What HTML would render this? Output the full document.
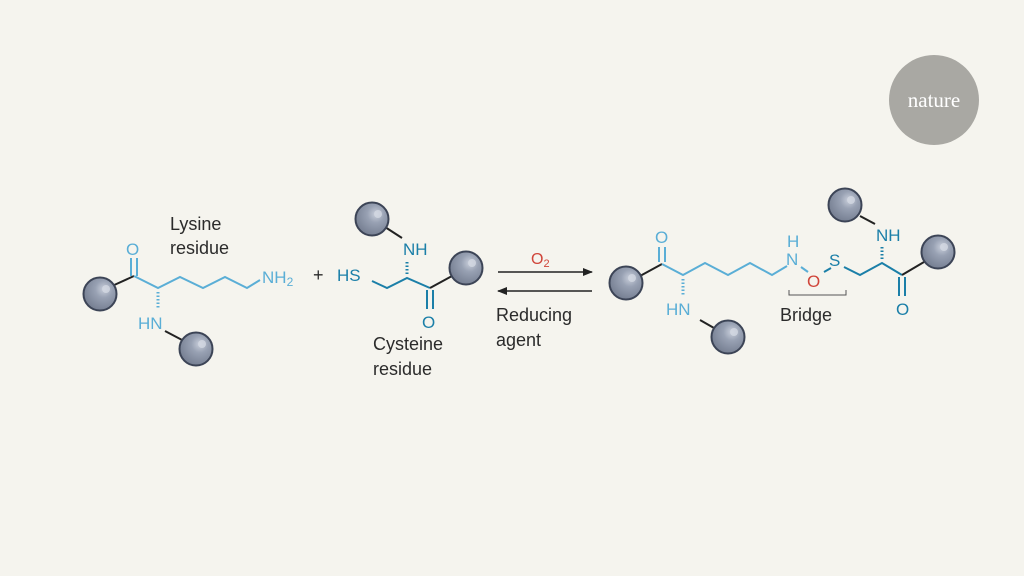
<!DOCTYPE html>
<html><head><meta charset="utf-8"><style>
html,body{margin:0;padding:0;background:#f5f4ee;}
svg{display:block}
text{font-family:"Liberation Sans",sans-serif;}
</style></head><body>
<svg width="1024" height="576" viewBox="0 0 1024 576" xmlns="http://www.w3.org/2000/svg">
<defs>
<radialGradient id="b" cx="0.62" cy="0.35" r="0.75">
<stop offset="0" stop-color="#c9cfdb"/><stop offset="0.35" stop-color="#98a1b3"/><stop offset="1" stop-color="#6f788b"/>
</radialGradient>
<g id="ball"><circle r="16.5" fill="url(#b)" stroke="#3c4456" stroke-width="2"/><circle cx="6" cy="-5" r="4" fill="#d3d8e2" opacity="0.8"/></g>
<marker id="ar" markerWidth="10" markerHeight="8" refX="9" refY="4" orient="auto" markerUnits="userSpaceOnUse"><path d="M0,0 L10,4 L0,8 Z" fill="#222"/></marker>
</defs>
<rect width="1024" height="576" fill="#f5f4ee"/>
<circle cx="934" cy="100" r="45" fill="#a9a8a3"/>
<text x="934" y="107" text-anchor="middle" fill="#fff" font-family="Liberation Serif,serif" style="font-family:'Liberation Serif',serif" font-size="21">nature</text>

<!-- Lysine -->
<g fill="none" stroke-width="2">
<line x1="112" y1="286" x2="134" y2="276" stroke="#222"/>
<polyline points="134,276 158,288 180,277 203,288 225,277 247,288 260,280" stroke="#5aaed6"/>
<line x1="131" y1="276" x2="131" y2="258" stroke="#5aaed6"/>
<line x1="137" y1="276" x2="137" y2="258" stroke="#5aaed6"/>
<line x1="158" y1="292" x2="158" y2="308" stroke="#5aaed6" stroke-dasharray="1.5 2" stroke-width="3"/>
<line x1="165" y1="331" x2="184" y2="341" stroke="#222"/>
</g>
<use href="#ball" x="100" y="294"/>
<use href="#ball" x="196" y="349"/>
<g fill="#5aaed6" font-size="17">
<text x="126" y="255">O</text>
<text x="138" y="329">HN</text>
<text x="262" y="283">NH<tspan font-size="12" dy="3">2</tspan></text>
</g>
<g fill="#2b2b2b" font-size="18">
<text x="170" y="230">Lysine</text>
<text x="170" y="254">residue</text>
<text x="313" y="281">+</text>
</g>

<!-- Cysteine -->
<g fill="none" stroke-width="2">
<polyline points="372,281 387,288 407,278 430,288" stroke="#1b7fa8"/>
<line x1="427" y1="290" x2="427" y2="309" stroke="#1b7fa8"/>
<line x1="433" y1="290" x2="433" y2="309" stroke="#1b7fa8"/>
<line x1="407" y1="274" x2="407" y2="260" stroke="#1b7fa8" stroke-dasharray="1.5 2" stroke-width="3"/>
<line x1="385" y1="227" x2="402" y2="238" stroke="#222"/>
<line x1="430" y1="288" x2="452" y2="276" stroke="#222"/>
</g>
<use href="#ball" x="372" y="219"/>
<use href="#ball" x="466" y="268"/>
<g fill="#1b7fa8" font-size="17">
<text x="337" y="281">HS</text>
<text x="403" y="255">NH</text>
<text x="422" y="328">O</text>
</g>
<g fill="#2b2b2b" font-size="18">
<text x="373" y="350">Cysteine</text>
<text x="373" y="375">residue</text>
</g>

<!-- arrows -->
<line x1="498" y1="272" x2="592" y2="272" stroke="#222" stroke-width="1.5" marker-end="url(#ar)"/>
<line x1="592" y1="291" x2="498" y2="291" stroke="#222" stroke-width="1.5" marker-end="url(#ar)"/>
<text x="531" y="264" fill="#d0453a" font-size="16">O<tspan font-size="11" dy="3">2</tspan></text>
<g fill="#2b2b2b" font-size="18">
<text x="496" y="321">Reducing</text>
<text x="496" y="346">agent</text>
</g>

<!-- Product -->
<g fill="none" stroke-width="2">
<line x1="640" y1="276" x2="662" y2="264" stroke="#222"/>
<polyline points="662,264 683,275 705,263 728,275 750,263 772,275 787,266" stroke="#5aaed6"/>
<line x1="659" y1="262" x2="659" y2="247" stroke="#5aaed6"/>
<line x1="665" y1="262" x2="665" y2="247" stroke="#5aaed6"/>
<line x1="683" y1="279" x2="683" y2="295" stroke="#5aaed6" stroke-dasharray="1.5 2" stroke-width="3"/>
<line x1="700" y1="320" x2="714" y2="328" stroke="#222"/>
<line x1="801" y1="267" x2="808" y2="272" stroke="#5aaed6"/>
<line x1="824" y1="272" x2="831" y2="268" stroke="#1b7fa8"/>
<polyline points="844,267 860,275 882,263 902,275" stroke="#1b7fa8"/>
<line x1="899" y1="277" x2="899" y2="296" stroke="#1b7fa8"/>
<line x1="905" y1="277" x2="905" y2="296" stroke="#1b7fa8"/>
<line x1="882" y1="259" x2="882" y2="245" stroke="#1b7fa8" stroke-dasharray="1.5 2" stroke-width="3"/>
<line x1="860" y1="216" x2="875" y2="224" stroke="#222"/>
<line x1="902" y1="275" x2="924" y2="262" stroke="#222"/>
<polyline points="789,290 789,295 846,295 846,290" stroke="#555" stroke-width="1"/>
</g>
<use href="#ball" x="626" y="283"/>
<use href="#ball" x="728" y="337"/>
<use href="#ball" x="845" y="205"/>
<use href="#ball" x="938" y="252"/>
<g fill="#5aaed6" font-size="17">
<text x="655" y="243">O</text>
<text x="666" y="315">HN</text>
<text x="787" y="247">H</text>
<text x="786" y="265">N</text>
</g>
<text x="807" y="287" fill="#d0453a" font-size="17">O</text>
<g fill="#1b7fa8" font-size="17">
<text x="829" y="266">S</text>
<text x="876" y="241">NH</text>
<text x="896" y="315">O</text>
</g>
<text x="780" y="321" fill="#2b2b2b" font-size="18">Bridge</text>
</svg>
</body></html>
